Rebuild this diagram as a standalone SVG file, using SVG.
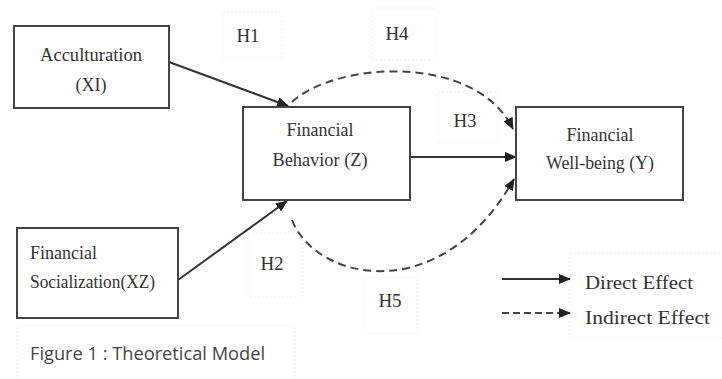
<svg xmlns="http://www.w3.org/2000/svg" width="722" height="379" viewBox="0 0 722 379">
<defs>
<marker id="ah" markerUnits="userSpaceOnUse" markerWidth="12" markerHeight="10" refX="11" refY="5" orient="auto">
<path d="M0,0 L12,5 L0,10 Z" fill="#222"/>
</marker>
<style>
.box{fill:#fff;stroke:#444;stroke-width:2}
.faint{fill:none;stroke:#f1f1f1;stroke-width:1;stroke-dasharray:2 2}
.t{font-family:"Liberation Serif","Times New Roman",serif;font-size:18px;fill:#333}
.h{font-size:19px}
.c{text-anchor:middle}
.solid{fill:none;stroke:#333;stroke-width:2;marker-end:url(#ah)}
.dash{fill:none;stroke:#444;stroke-width:2;stroke-dasharray:8 5;marker-end:url(#ah)}
.cap{font-family:"Open Sans","Liberation Sans",sans-serif;font-size:18px;fill:#444}
</style>
</defs>
<rect width="722" height="379" fill="#fff"/>
<g id="faint-boxes">
<rect class="faint" x="223" y="12" width="60" height="46"/>
<rect class="faint" x="372" y="8" width="65" height="52"/>
<rect class="faint" x="438" y="92" width="60" height="50"/>
<rect class="faint" x="248" y="233" width="54" height="64"/>
<rect class="faint" x="363" y="277" width="54" height="56"/>
<rect class="faint" x="570" y="253" width="160" height="85"/>
<rect class="faint" x="17" y="325" width="278" height="60"/>
</g>
<g id="connectors">
<line class="solid" x1="169" y1="62" x2="288" y2="106"/>
<line class="solid" x1="178" y1="280" x2="287" y2="201"/>
<line class="solid" x1="410" y1="157" x2="516" y2="157"/>
<path class="dash" d="M292,102 C335,62 475,52 513,129"/>
<path class="dash" d="M292,220 C315,280 440,310 514,179"/>
</g>
<g id="x1">
<rect class="box" x="14" y="26" width="155" height="82"/>
<text class="t c" x="91" y="61" textLength="102" lengthAdjust="spacingAndGlyphs">Acculturation</text>
<text class="t c" x="91" y="91">(XI)</text>
</g>
<g id="z">
<rect class="box" x="243" y="107" width="167" height="93"/>
<text class="t c" x="320" y="136">Financial</text>
<text class="t c" x="320" y="166" textLength="95" lengthAdjust="spacingAndGlyphs">Behavior (Z)</text>
</g>
<g id="y">
<rect class="box" x="516" y="107" width="167" height="93"/>
<text class="t c" x="600" y="141">Financial</text>
<text class="t c" x="600" y="169" textLength="108" lengthAdjust="spacingAndGlyphs">Well-being (Y)</text>
</g>
<g id="x2">
<rect class="box" x="17" y="228" width="161" height="90"/>
<text class="t" x="30" y="259">Financial</text>
<text class="t" x="30" y="288" textLength="125" lengthAdjust="spacingAndGlyphs">Socialization(XZ)</text>
</g>
<g id="labels">
<text class="t h c" x="248" y="42">H1</text>
<text class="t h c" x="397" y="40">H4</text>
<text class="t h c" x="465" y="127">H3</text>
<text class="t h c" x="272" y="270">H2</text>
<text class="t h c" x="390" y="307">H5</text>
</g>
<g id="legend">
<line class="solid" x1="502" y1="279" x2="570" y2="279"/>
<line class="dash" x1="502" y1="313" x2="570" y2="313" style="stroke-dasharray:7 4"/>
<text class="t" x="585" y="289" style="font-size:19px" textLength="108" lengthAdjust="spacingAndGlyphs">Direct Effect</text>
<text class="t" x="585" y="324" style="font-size:19px" textLength="125" lengthAdjust="spacingAndGlyphs">Indirect Effect</text>
</g>
<g id="caption">
<text class="cap" x="30" y="360" textLength="235" lengthAdjust="spacingAndGlyphs">Figure 1 : Theoretical Model</text>
</g>
</svg>
